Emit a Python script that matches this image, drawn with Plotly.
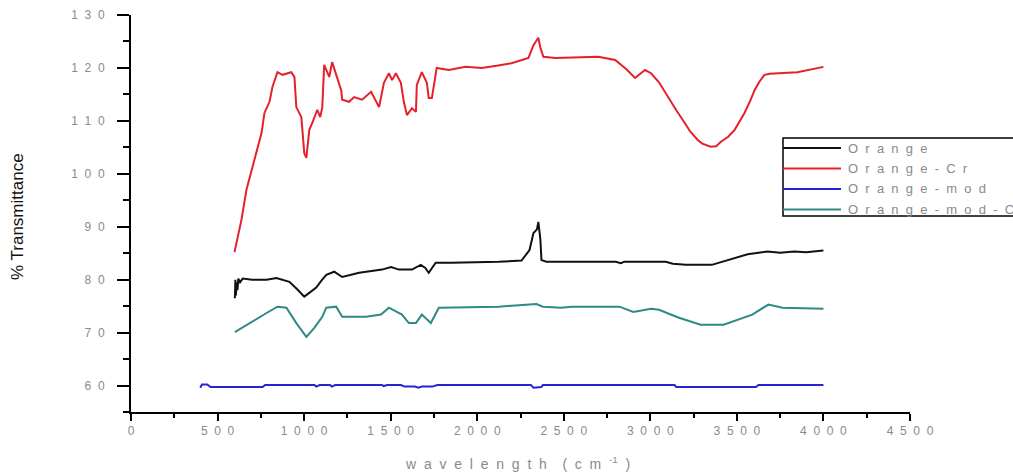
import plotly.graph_objects as go

# ---- FTIR spectra (wavenumber in cm^-1, % transmittance) ----
orange_x = [600, 603, 606, 610, 615, 620, 630, 645, 700, 783, 840, 915, 960, 1001, 1030,
            1070, 1100, 1128, 1174, 1200, 1220, 1318, 1400, 1450, 1502, 1548, 1623, 1674,
            1700, 1720, 1760, 1852, 2124, 2256, 2302, 2325, 2345, 2353, 2360, 2365, 2371,
            2400, 2800, 2830, 2850, 3089, 3130, 3205, 3355, 3447, 3562, 3677, 3750, 3832,
            3900, 4000]
orange_y = [76.5, 80.0, 77.0, 79.5, 78.0, 80.2, 79.5, 80.2, 80.0, 80.0, 80.3, 79.6, 78.2,
            76.8, 77.5, 78.5, 79.8, 80.9, 81.5, 81.0, 80.5, 81.3, 81.6, 81.9, 82.4, 81.9,
            81.9, 82.8, 82.2, 81.3, 83.2, 83.2, 83.4, 83.6, 85.6, 88.8, 89.5, 90.9, 89.0,
            87.5, 83.7, 83.4, 83.4, 83.1, 83.4, 83.4, 83.0, 82.8, 82.8, 83.7, 84.8, 85.3,
            85.1, 85.3, 85.2, 85.5]

orange_cr_x = [598, 616, 638, 667, 696, 725, 754, 771, 800, 817, 846, 875, 926, 944, 955,
               984, 1001, 1013, 1030, 1047, 1076, 1093, 1105, 1116, 1145, 1162, 1191, 1214,
               1220, 1260, 1289, 1335, 1387, 1404, 1433, 1461, 1490, 1508, 1530, 1559, 1576,
               1594, 1623, 1646, 1651, 1680, 1709, 1720, 1738, 1766, 1836, 1933, 2025, 2112,
               2198, 2296, 2325, 2353, 2365, 2382, 2451, 2699, 2797, 2860, 2912, 2969, 3004,
               3050, 3101, 3150, 3199, 3230, 3274, 3300, 3349, 3380, 3406, 3450, 3487, 3520,
               3544, 3580, 3602, 3630, 3659, 3690, 3734, 3849, 4000]
orange_cr_y = [85.2, 88.1, 91.3, 97.0, 100.7, 104.5, 107.7, 111.5, 113.6, 116.4, 119.2,
               118.7, 119.2, 118.3, 112.6, 110.7, 103.9, 103.0, 108.3, 109.6, 112.1, 110.7,
               112.6, 120.6, 118.3, 121.1, 118.3, 115.8, 114.0, 113.6, 114.5, 114.0, 115.5,
               114.5, 112.6, 117.2, 119.0, 117.7, 119.0, 117.2, 113.6, 111.1, 112.4, 111.7,
               116.8, 119.2, 117.2, 114.3, 114.3, 120.0, 119.6, 120.2, 120.0, 120.4, 120.9,
               121.9, 124.3, 125.7, 123.8, 122.1, 121.9, 122.1, 121.5, 119.8, 118.1, 119.6,
               119.0, 117.3, 114.5, 112.0, 109.6, 108.0, 106.4, 105.7, 105.1, 105.2, 106.0,
               107.0, 108.3, 110.0, 111.5, 114.0, 115.8, 117.4, 118.7, 118.9, 119.0, 119.2,
               120.2]

orange_mod_x = [400, 410, 440, 460, 760, 775, 1060, 1070, 1090, 1150, 1160, 1180, 1450,
                1460, 1480, 1560, 1580, 1640, 1660, 1680, 1740, 1770, 2310, 2325, 2370,
                2380, 3140, 3150, 3610, 3625, 4000]
orange_mod_y = [59.6, 60.2, 60.2, 59.7, 59.7, 60.1, 60.1, 59.8, 60.1, 60.1, 59.8, 60.1,
                60.1, 59.9, 60.1, 60.1, 59.8, 59.8, 59.6, 59.8, 59.8, 60.1, 60.1, 59.6,
                59.7, 60.1, 60.1, 59.7, 59.7, 60.1, 60.1]

orange_mod_cr_x = [600, 684, 783, 846, 898, 955, 1013, 1059, 1105, 1128, 1185, 1220, 1358,
                   1444, 1490, 1565, 1605, 1646, 1680, 1732, 1778, 2124, 2342, 2380, 2487,
                   2545, 2821, 2902, 3004, 3050, 3165, 3291, 3423, 3589, 3682, 3763, 4000]
orange_mod_cr_y = [70.1, 71.8, 73.7, 74.9, 74.7, 71.8, 69.2, 70.9, 73.0, 74.7, 74.9, 73.0,
                   73.0, 73.4, 74.7, 73.4, 71.8, 71.8, 73.4, 71.8, 74.7, 74.9, 75.4, 74.9,
                   74.7, 74.9, 74.9, 73.9, 74.5, 74.3, 72.8, 71.5, 71.5, 73.4, 75.3, 74.7,
                   74.5]

series_names = ["Orange", "Orange-Cr", "Orange-mod", "Orange-mod-Cr"]
series_colors = ["#111111", "#e5202a", "#2424d4", "#2e8a84"]

x_ticks = [0, 500, 1000, 1500, 2000, 2500, 3000, 3500, 4000, 4500]
y_ticks = [60, 70, 80, 90, 100, 110, 120, 130]

GAP = "\u00a0\u00a0"
GRAY = "#8a8a8a"
FONT = "Liberation Sans, Arial, sans-serif"
# transparent padding appended to the y labels so they sit further from the long ticks
PAD = "<span style='color:rgba(0,0,0,0)'>\u00a00</span>"


def spaced(s):
    return GAP.join(list(str(s)))


# plot area geometry (pixels) used to place the hand-made legend and titles
W, H = 1013, 475
L, R, T, B = 131, 910, 15, 412


def px(x):
    return (x - L) / (R - L)


def py(y):
    return (B - y) / (B - T)


fig = go.Figure()
for name, color, xs, ys in zip(
    series_names, series_colors,
    [orange_x, orange_cr_x, orange_mod_x, orange_mod_cr_x],
    [orange_y, orange_cr_y, orange_mod_y, orange_mod_cr_y],
):
    fig.add_trace(go.Scatter(x=xs, y=ys, mode="lines", name=name, showlegend=False,
                             line=dict(color=color, width=2)))

axis_common = dict(showline=True, linecolor="black", linewidth=2, showgrid=False,
                   zeroline=False, ticks="outside", tickcolor="black", tickwidth=2,
                   tickfont=dict(family=FONT, size=12, color=GRAY))

fig.update_xaxes(range=[0, 4500], tickvals=x_ticks, ticktext=[spaced(v) for v in x_ticks],
                 ticklen=7,
                 minor=dict(dtick=250, tick0=0, ticklen=4, ticks="outside",
                            tickcolor="black", tickwidth=2, showgrid=False),
                 **axis_common)
fig.update_yaxes(range=[55, 130], tickvals=y_ticks,
                 ticktext=[spaced(v) + PAD for v in y_ticks],
                 ticklen=12,
                 minor=dict(dtick=5, tick0=0, ticklen=6, ticks="outside",
                            tickcolor="black", tickwidth=2, showgrid=False),
                 **axis_common)

annotations = [
    dict(text=GAP.join("wavelength") + "\u00a0" * 4 + "(" + GAP + "c" + GAP + "m"
         + "\u00a0\u00a0<sup>-1</sup>" + GAP + ")",
         x=px(517), y=py(463), xref="paper", yref="paper", showarrow=False,
         xanchor="center", yanchor="middle",
         font=dict(family=FONT, size=14, color=GRAY)),
    dict(text="% Transmittance", textangle=-90,
         x=px(18), y=py(217), xref="paper", yref="paper", showarrow=False,
         xanchor="center", yanchor="middle",
         font=dict(family=FONT, size=17, color="#111111")),
]

shapes = [dict(type="rect", xref="paper", yref="paper",
               x0=px(783), x1=px(1030), y0=py(216), y1=py(138),
               line=dict(color="black", width=1.5), fillcolor="white", layer="above")]

legend_rows = [148, 168.5, 189, 209.5]
for name, color, row in zip(series_names, series_colors, legend_rows):
    shapes.append(dict(type="line", xref="paper", yref="paper",
                       x0=px(783), x1=px(841), y0=py(row), y1=py(row),
                       line=dict(color=color, width=2)))
    annotations.append(dict(text=spaced(name), x=px(846), y=py(row), xref="paper",
                            yref="paper", showarrow=False, xanchor="left",
                            yanchor="middle",
                            font=dict(family=FONT, size=13, color=GRAY)))

fig.update_layout(
    width=W, height=H,
    margin=dict(l=L, r=W - R, t=T, b=H - B, autoexpand=False),
    paper_bgcolor="white", plot_bgcolor="white",
    annotations=annotations, shapes=shapes,
)

fig.write_html("out.html")
